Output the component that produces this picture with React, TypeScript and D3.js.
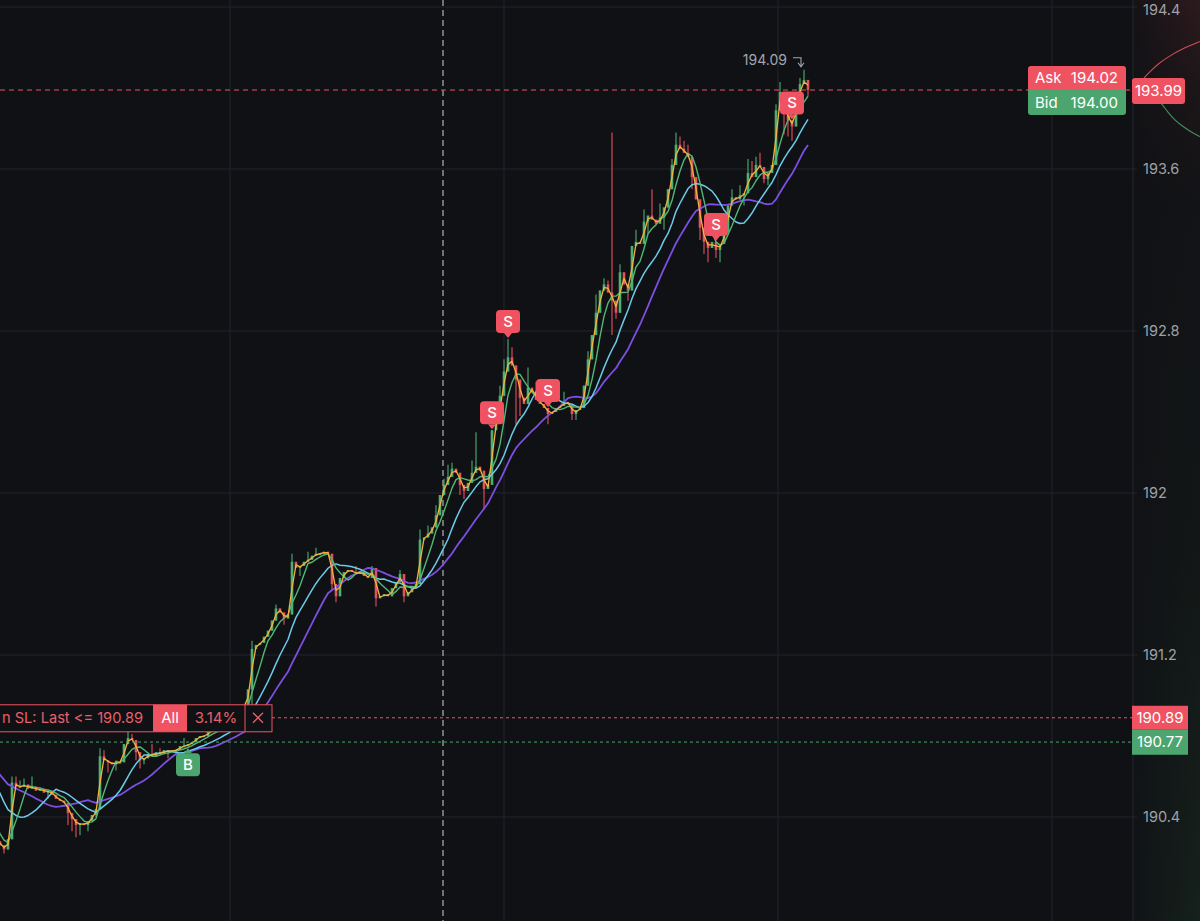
import React from 'react';
import * as d3 from 'd3';

const WIDTH = 1200;
const HEIGHT = 921;
const AXIS_X = 1133;

// ---- data ----
const priceTicks = [194.4, 193.6, 192.8, 192.0, 191.2, 190.4];
const tickLabels = ['194.4', '193.6', '192.8', '192', '191.2', '190.4'];

const closes = [
  190.74, 190.76, 190.73, 190.77, 190.75, 190.72, 190.76, 190.74, 190.78, 190.75,
  190.73, 190.75, 190.74, 190.76, 190.73, 190.75, 190.72, 190.65, 190.55, 190.45,
  190.40, 190.35, 190.30, 190.28, 190.26, 190.24, 190.29, 190.57, 190.55, 190.55,
  190.56, 190.54, 190.55, 190.53, 190.54, 190.52, 190.53, 190.51, 190.49, 190.48,
  190.47, 190.42, 190.39, 190.36, 190.37, 190.36, 190.38, 190.41, 190.44, 190.70,
  190.68, 190.67, 190.66, 190.67, 190.67, 190.76, 190.79, 190.78, 190.72, 190.68,
  190.69, 190.71, 190.70, 190.72, 190.71, 190.73, 190.72, 190.73, 190.73, 190.75,
  190.75, 190.76, 190.77, 190.79, 190.80, 190.80, 190.82, 190.83, 190.84, 190.85,
  190.87, 190.88, 190.90, 190.92, 190.94, 190.95, 191.03, 191.23, 191.25, 191.26,
  191.29, 191.32, 191.37, 191.43, 191.41, 191.38, 191.40, 191.66, 191.63, 191.64,
  191.66, 191.67, 191.69, 191.70, 191.70, 191.71, 191.70, 191.55, 191.49, 191.58,
  191.61, 191.62, 191.61, 191.60, 191.61, 191.59, 191.58, 191.63, 191.48, 191.49,
  191.50, 191.49, 191.53, 191.56, 191.60, 191.49, 191.51, 191.53, 191.55, 191.77,
  191.78, 191.80, 191.83, 191.89, 191.99, 192.04, 192.08, 192.12, 192.10, 192.04,
  192.01, 192.05, 192.10, 192.13, 192.11, 192.02, 192.04, 192.31, 192.35, 192.48,
  192.60, 192.67, 192.63, 192.56, 192.47, 192.44, 192.52, 192.50, 192.46, 192.44,
  192.42, 192.39, 192.40, 192.42, 192.43, 192.45, 192.44, 192.39, 192.41, 192.42,
  192.53, 192.66, 192.78, 192.89, 193.00, 193.03, 192.99, 192.95, 192.89, 193.09,
  193.03, 193.00, 193.22, 193.24, 193.23, 193.34, 193.37, 193.35, 193.33, 193.36,
  193.41, 193.50, 193.62, 193.72, 193.70, 193.68, 193.66, 193.56, 193.45, 193.31,
  193.24, 193.21, 193.24, 193.20, 193.23, 193.29, 193.42, 193.46, 193.45, 193.47,
  193.48, 193.58, 193.56, 193.62, 193.61, 193.55, 193.58, 193.62, 193.89, 193.98,
  193.88, 193.84, 193.81, 193.94, 194.02, 194.04, 193.99,
];

// candle index -> wick extreme
const wickHighs: [number, number][] = [
  [27, 190.6], [28, 190.6], [29, 190.58], [30, 190.59], [32, 190.6], [49, 190.74], [50, 190.73],
  [56, 190.83], [57, 190.81], [62, 190.76], [64, 190.74], [70, 190.79], [87, 191.27], [93, 191.45],
  [97, 191.7], [101, 191.71], [103, 191.73], [113, 191.64], [117, 191.64], [124, 191.62],
  [129, 191.82], [131, 191.84], [133, 191.94], [135, 192.07], [136, 192.14], [137, 192.15],
  [142, 192.16], [143, 192.3], [149, 192.53], [150, 192.66], [151, 192.76], [152, 192.72],
  [156, 192.62], [158, 192.55], [165, 192.5], [171, 192.7], [173, 192.98], [175, 193.06],
  [176, 193.05], [177, 193.78], [179, 193.13], [183, 193.3], [185, 193.4], [187, 193.5],
  [189, 193.43], [192, 193.65], [193, 193.78], [194, 193.76], [195, 193.74], [196, 193.72],
  [205, 193.33], [207, 193.5], [209, 193.52], [211, 193.65], [212, 193.64], [213, 193.66],
  [214, 193.68], [218, 193.92], [219, 194.03], [223, 193.97], [224, 194.05], [225, 194.09],
  [226, 194.03],
];
const wickLows: [number, number][] = [
  [25, 190.22], [36, 190.49], [41, 190.36], [42, 190.33], [43, 190.3], [44, 190.31],
  [46, 190.33], [48, 190.4], [51, 190.62], [53, 190.63], [58, 190.68], [59, 190.64],
  [60, 190.66], [66, 190.69], [87, 190.95], [95, 191.35], [99, 191.59], [107, 191.52],
  [108, 191.46], [118, 191.44], [125, 191.46], [139, 191.99], [140, 191.97], [145, 191.92],
  [153, 192.34], [154, 192.38], [161, 192.34], [167, 192.36], [168, 192.36], [172, 192.7],
  [177, 192.78], [178, 192.86], [181, 192.95], [186, 193.28], [190, 193.3], [197, 193.5],
  [199, 193.25], [200, 193.18], [201, 193.14], [203, 193.16], [204, 193.14], [210, 193.42],
  [215, 193.53], [216, 193.52], [220, 193.77], [221, 193.76], [222, 193.74], [226, 193.96],
];

const sellSignals = [147, 151, 161, 203, 222];
const buySignals = [71];
const timeGrid = [81.5, 150, 218.5, 287];
const crosshairAt = 134.75;

const maOrangePeriod = 2;
const maGreenPeriod = 5;
const maCyanPeriod = 12;
const maPurplePeriod = 20;

const lastPrice = 193.99;
const askPrice = 194.02;
const bidPrice = 194.0;
const stopPrice = 190.89;
const entryPrice = 190.77;
const stopText = 'n SL: Last <= 190.89';
const stopScope = 'All';
const stopPct = '3.14%';

const askDepthPrice = [194.02, 194.05, 194.08, 194.12, 194.16, 194.2, 194.23];
const askDepthVol = [0, 4, 10, 18, 30, 45, 60];
const bidDepthPrice = [194.0, 193.96, 193.92, 193.88, 193.84, 193.81, 193.78, 193.76];
const bidDepthVol = [0, 15, 22, 28, 35, 43, 52, 60];

// ---- colours ----
const BG = '#101115';
const GRID = '#23252b';
const RED = '#ef5361';
const GREEN = '#4ca56f';
const UP = '#4fae74';
const DOWN = '#e2525f';
const TXT = '#9ea1a7';
const FONT = 'Inter, "Noto Sans", "DejaVu Sans", sans-serif';

function sma(vals: number[], n: number): (number | null)[] {
  return vals.map((_, i) => (i < n - 1 ? null : (d3.mean(vals.slice(i - n + 1, i + 1)) as number)));
}

export default function App() {
  const y = d3.scaleLinear().domain([190.4, 194.4]).range([817, 7]);
  const x = d3.scaleLinear().domain([0, closes.length - 1]).range([-96, 808]);
  const depthX = d3.scaleLinear().domain([0, 60]).range([1140, 1200]);

  const hiMap = new Map(wickHighs);
  const loMap = new Map(wickLows);
  const candles = closes.map((c, i) => {
    const o = i === 0 ? c : closes[i - 1];
    const h = Math.max(o, c, hiMap.get(i) ?? -Infinity);
    const l = Math.min(o, c, loMap.get(i) ?? Infinity);
    return { i, o, c, h, l };
  });

  const line = d3
    .line<number | null>()
    .defined((d) => d != null)
    .x((_, i) => x(i))
    .y((d) => y(d as number));

  const mas = [
    { vals: sma(closes, maPurplePeriod), color: '#7d4fe3', w: 1.8 },
    { vals: sma(closes, maCyanPeriod), color: '#6ccbea', w: 1.5 },
    { vals: sma(closes, maGreenPeriod), color: '#52b874', w: 1.4 },
    { vals: sma(closes, maOrangePeriod), color: '#f2b43c', w: 1.3 },
  ];

  const depthLine = d3.line<[number, number]>().curve(d3.curveBasis);
  const askPath = depthLine(askDepthPrice.map((p, k) => [depthX(askDepthVol[k]), y(p)] as [number, number]));
  const bidPath = depthLine(bidDepthPrice.map((p, k) => [depthX(bidDepthVol[k]), y(p)] as [number, number]));

  let maxIdx = 0;
  candles.forEach((c) => {
    if (c.h > candles[maxIdx].h) maxIdx = c.i;
  });
  const maxC = candles[maxIdx];
  const mx = x(maxIdx);
  const my = y(maxC.h);

  const yLast = y(lastPrice);
  const yStop = y(stopPrice);
  const yEntry = y(entryPrice);

  return (
    <div style={{ position: 'fixed', left: 0, top: 0, width: WIDTH, height: HEIGHT }}>
      <svg width={WIDTH} height={HEIGHT} style={{ display: 'block', fontFamily: FONT }}>
        <defs>
          <linearGradient id="panelV" x1="0" y1="0" x2="0" y2="1">
            <stop offset="0%" stopColor="#2d1a1e" />
            <stop offset="10%" stopColor="#1c1618" />
            <stop offset="22%" stopColor="#121316" />
            <stop offset="60%" stopColor="#131717" />
            <stop offset="100%" stopColor="#15211c" />
          </linearGradient>
          <linearGradient id="panelH" x1="0" y1="0" x2="1" y2="0">
            <stop offset="0%" stopColor={BG} stopOpacity={0.85} />
            <stop offset="100%" stopColor={BG} stopOpacity={0} />
          </linearGradient>
          <clipPath id="plot">
            <rect x={0} y={0} width={AXIS_X} height={HEIGHT} />
          </clipPath>
          <clipPath id="panel">
            <rect x={AXIS_X} y={0} width={WIDTH - AXIS_X} height={HEIGHT} />
          </clipPath>
        </defs>

        <rect x={0} y={0} width={WIDTH} height={HEIGHT} fill={BG} />
        <rect x={AXIS_X} y={0} width={WIDTH - AXIS_X} height={HEIGHT} fill="url(#panelV)" />
        <rect x={AXIS_X} y={0} width={WIDTH - AXIS_X} height={HEIGHT} fill="url(#panelH)" />

        {/* depth curves */}
        <g clipPath="url(#panel)">
          <path d={askPath || ''} fill="none" stroke={RED} strokeWidth={1.1} opacity={0.85} />
          <path d={bidPath || ''} fill="none" stroke={GREEN} strokeWidth={1.1} opacity={0.85} />
        </g>

        {/* grid */}
        {priceTicks.map((p) => (
          <line key={'h' + p} x1={0} x2={AXIS_X + 4} y1={y(p)} y2={y(p)} stroke={GRID} strokeWidth={1} />
        ))}
        {timeGrid.map((t) => (
          <line key={'v' + t} x1={x(t)} x2={x(t)} y1={0} y2={HEIGHT} stroke={GRID} strokeWidth={1} />
        ))}
        <line x1={AXIS_X} x2={AXIS_X} y1={0} y2={HEIGHT} stroke="#26282e" strokeWidth={1} />

        {/* axis labels */}
        {priceTicks.map((p, k) => (
          <text key={'t' + p} x={AXIS_X + 10} y={Math.max(y(p), 10)} dy="0.35em" fill={TXT} fontSize={14.5}>
            {tickLabels[k]}
          </text>
        ))}

        <g clipPath="url(#plot)">
          {/* crosshair */}
          <line
            x1={x(crosshairAt)}
            x2={x(crosshairAt)}
            y1={0}
            y2={HEIGHT}
            stroke="#bfc1c6"
            strokeWidth={1.3}
            strokeDasharray="6 4"
            opacity={0.85}
          />

          {/* candles */}
          {candles.map((c) => {
            const col = c.c >= c.o ? UP : DOWN;
            const top = y(Math.max(c.o, c.c));
            const bot = y(Math.min(c.o, c.c));
            return (
              <g key={c.i}>
                <line x1={x(c.i)} x2={x(c.i)} y1={y(c.h)} y2={y(c.l)} stroke={col} strokeWidth={1.1} />
                <rect x={x(c.i) - 1.3} width={2.6} y={top} height={Math.max(1.2, bot - top)} fill={col} />
              </g>
            );
          })}

          {/* moving averages */}
          {mas.map((m, k) => (
            <path key={k} d={line(m.vals) || ''} fill="none" stroke={m.color} strokeWidth={m.w} strokeLinejoin="round" />
          ))}

          {/* price lines */}
          <line x1={0} x2={AXIS_X} y1={yLast} y2={yLast} stroke={RED} strokeWidth={1} strokeDasharray="5 4" />
          <line x1={272} x2={AXIS_X} y1={yStop} y2={yStop} stroke={RED} strokeWidth={1} strokeDasharray="3 3" />
          <line x1={0} x2={AXIS_X} y1={yEntry} y2={yEntry} stroke={GREEN} strokeWidth={1} strokeDasharray="3 3" />

          {/* high label */}
          <text x={mx - 17} y={my - 10} dy="0.35em" textAnchor="end" fill="#a3a6ab" fontSize={14}>
            {maxC.h.toFixed(2)}
          </text>
          <path
            d={`M${mx - 11},${my - 12} H${mx - 3} V${my - 4} M${mx - 6},${my - 7} L${mx - 3},${my - 3} L${mx},${my - 7}`}
            fill="none"
            stroke="#a3a6ab"
            strokeWidth={1.1}
          />

          {/* signals */}
          {sellSignals.map((i) => {
            const cx = x(i);
            const tip = y(candles[i].h) - 1;
            const by = tip - 5;
            return (
              <g key={'s' + i}>
                <rect x={cx - 12} y={by - 23} width={24} height={23} rx={4} fill={RED} />
                <path d={`M${cx - 4},${by} L${cx},${by + 5} L${cx + 4},${by} Z`} fill={RED} />
                <text x={cx} y={by - 11.5} dy="0.36em" textAnchor="middle" fill="#fff" fontSize={15} fontWeight={500}>
                  S
                </text>
              </g>
            );
          })}
          {buySignals.map((i) => {
            const cx = x(i);
            const tip = y(candles[i].l) + 2;
            const by = tip + 5;
            return (
              <g key={'b' + i}>
                <rect x={cx - 12} y={by} width={24} height={23} rx={4} fill={GREEN} />
                <path d={`M${cx - 4},${by} L${cx},${by - 5} L${cx + 4},${by} Z`} fill={GREEN} />
                <text x={cx} y={by + 11.5} dy="0.36em" textAnchor="middle" fill="#fff" fontSize={15} fontWeight={500}>
                  B
                </text>
              </g>
            );
          })}

          {/* stop-loss order label */}
          <g>
            <rect x={-5} y={yStop - 13} width={277} height={27} fill={BG} stroke={RED} strokeWidth={1} />
            <text
              x={2}
              y={yStop}
              dy="0.35em"
              fill="#e8606b"
              fontSize={15}
              textLength={141}
              lengthAdjust="spacingAndGlyphs"
            >
              {stopText}
            </text>
            <rect x={153} y={yStop - 13} width={34} height={27} fill={RED} />
            <text x={170} y={yStop} dy="0.35em" textAnchor="middle" fill="#fff" fontSize={15}>
              {stopScope}
            </text>
            <text x={216} y={yStop} dy="0.35em" textAnchor="middle" fill="#e8606b" fontSize={15}>
              {stopPct}
            </text>
            <line x1={245} x2={245} y1={yStop - 13} y2={yStop + 14} stroke={RED} strokeWidth={1} />
            <path
              d={`M${253},${yStop - 5} L${263},${yStop + 5} M${263},${yStop - 5} L${253},${yStop + 5}`}
              stroke="#e8606b"
              strokeWidth={1.3}
            />
          </g>
        </g>

        {/* ask / bid */}
        <g>
          <path
            d={`M${AXIS_X - 105},${yLast} V${yLast - 21} Q${AXIS_X - 105},${yLast - 24} ${AXIS_X - 102},${yLast - 24} H${AXIS_X - 10} Q${AXIS_X - 7},${yLast - 24} ${AXIS_X - 7},${yLast - 21} V${yLast} Z`}
            fill={RED}
          />
          <path
            d={`M${AXIS_X - 105},${yLast} V${yLast + 22} Q${AXIS_X - 105},${yLast + 25} ${AXIS_X - 102},${yLast + 25} H${AXIS_X - 10} Q${AXIS_X - 7},${yLast + 25} ${AXIS_X - 7},${yLast + 22} V${yLast} Z`}
            fill={GREEN}
          />
          <text x={AXIS_X - 98} y={yLast - 12} dy="0.35em" fill="#fff" fontSize={15}>
            Ask
          </text>
          <text x={AXIS_X - 15} y={yLast - 12} dy="0.35em" textAnchor="end" fill="#fff" fontSize={15}>
            {askPrice.toFixed(2)}
          </text>
          <text x={AXIS_X - 98} y={yLast + 13} dy="0.35em" fill="#fff" fontSize={15}>
            Bid
          </text>
          <text x={AXIS_X - 15} y={yLast + 13} dy="0.35em" textAnchor="end" fill="#fff" fontSize={15}>
            {bidPrice.toFixed(2)}
          </text>
        </g>

        {/* axis price tags */}
        <rect x={AXIS_X - 1} y={yLast - 12} width={53} height={26} rx={3} fill={RED} />
        <text x={AXIS_X + 25.5} y={yLast + 1} dy="0.35em" textAnchor="middle" fill="#fff" fontSize={15}>
          {lastPrice.toFixed(2)}
        </text>
        <rect x={AXIS_X - 1} y={yStop - 12} width={56} height={24} fill={RED} />
        <text x={AXIS_X + 27} y={yStop} dy="0.35em" textAnchor="middle" fill="#fff" fontSize={15}>
          {stopPrice.toFixed(2)}
        </text>
        <rect x={AXIS_X - 1} y={yStop + 12} width={56} height={25} fill={GREEN} />
        <text x={AXIS_X + 27} y={yEntry} dy="0.35em" textAnchor="middle" fill="#fff" fontSize={15}>
          {entryPrice.toFixed(2)}
        </text>
      </svg>
    </div>
  );
}
